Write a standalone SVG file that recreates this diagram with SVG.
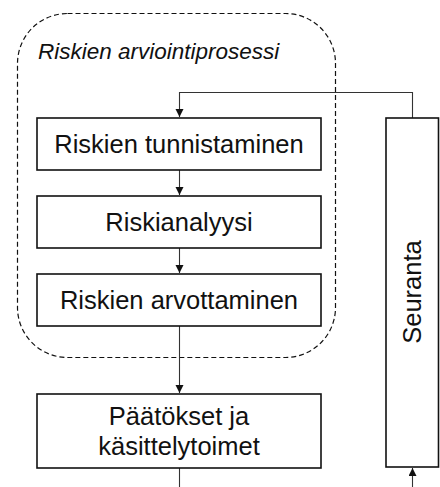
<svg xmlns="http://www.w3.org/2000/svg" width="440" height="487" viewBox="0 0 440 487">
  <style>
    .box { fill: #ffffff; stroke: #111111; stroke-width: 1.6; }
    .lbl { font-family: "Liberation Sans", Arial, sans-serif; font-size: 25.5px; fill: #111111; text-anchor: middle; }
    .title { font-family: "Liberation Sans", Arial, sans-serif; font-size: 22.5px; font-style: italic; fill: #111111; }
    .conn { fill: none; stroke: #333333; stroke-width: 1.1; }
    .group { fill: none; stroke: #111111; stroke-width: 1.2; stroke-dasharray: 5 3; }
  </style>
  <defs>
    <marker id="arrow" markerUnits="userSpaceOnUse" markerWidth="9" markerHeight="9" refX="8" refY="4" orient="auto">
      <path d="M0,0 L8,4 L0,8 z" fill="#111111"/>
    </marker>
  </defs>
  <rect width="440" height="487" fill="#ffffff"/>

  <g id="assessment-group">
    <rect class="group" x="17.5" y="13.5" width="318" height="344" rx="50" ry="50"/>
    <text class="title" x="38" y="59">Riskien arviointiprosessi</text>
  </g>

  <g id="connectors">
    <path class="conn" d="M412.5,118 V92.5 H179.5 V117" marker-end="url(#arrow)"/>
    <path class="conn" d="M179.5,170 V195" marker-end="url(#arrow)"/>
    <path class="conn" d="M179.5,248 V273" marker-end="url(#arrow)"/>
    <path class="conn" d="M179.5,326 V393" marker-end="url(#arrow)"/>
    <path class="conn" d="M179.5,468 V487"/>
    <path class="conn" d="M412.5,487 V468" marker-end="url(#arrow)"/>
  </g>

  <g id="node-tunnistaminen">
    <rect class="box" x="37" y="118" width="284" height="52"/>
    <text class="lbl" x="179" y="153">Riskien tunnistaminen</text>
  </g>

  <g id="node-analyysi">
    <rect class="box" x="37" y="196" width="284" height="52"/>
    <text class="lbl" x="179" y="231">Riskianalyysi</text>
  </g>

  <g id="node-arvottaminen">
    <rect class="box" x="37" y="274" width="284" height="52"/>
    <text class="lbl" x="179" y="309">Riskien arvottaminen</text>
  </g>

  <g id="node-paatokset">
    <rect class="box" x="37" y="394" width="284" height="74"/>
    <text class="lbl" x="179" y="425">Päätökset ja</text>
    <text class="lbl" x="179" y="455">käsittelytoimet</text>
  </g>

  <g id="node-seuranta">
    <rect class="box" x="386" y="118" width="52.5" height="349"/>
    <text class="lbl" transform="translate(421,292) rotate(-90)" x="0" y="0">Seuranta</text>
  </g>
</svg>
